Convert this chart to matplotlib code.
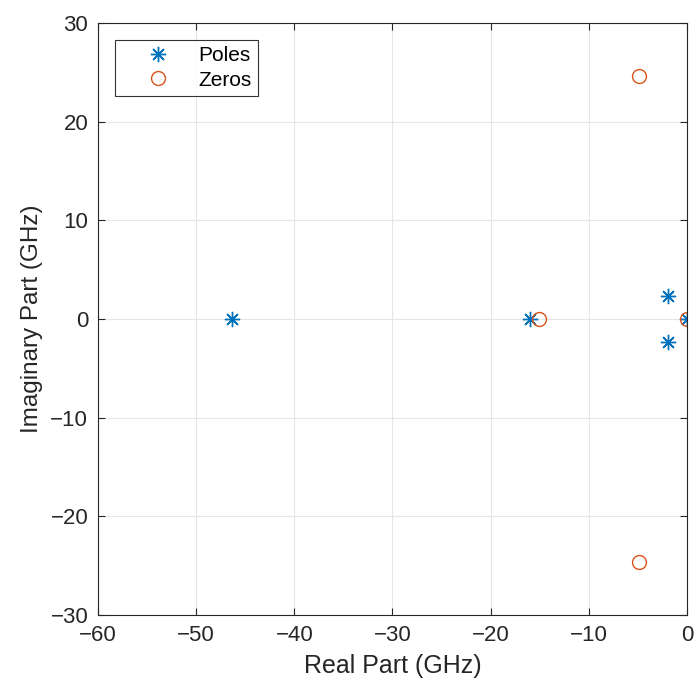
import matplotlib
matplotlib.use('Agg')
import matplotlib.pyplot as plt

# pole / zero locations (GHz)
pole_re = [-46.3, -16.0, -1.95, -1.95, 0.0]
pole_im = [0.0, 0.0, 2.3, -2.3, 0.0]
zero_re = [-15.1, -4.9, -4.9, 0.0]
zero_im = [0.0, 24.6, -24.6, 0.0]

plt.rcParams['font.family'] = ['Liberation Sans', 'DejaVu Sans']

fig = plt.figure(figsize=(6.94, 6.82), dpi=100)
ax = fig.add_axes([0.1412, 0.0982, 0.8487, 0.8681])

# MATLAB-style asterisk: 8 arms
ax.plot(pole_re, pole_im, linestyle='none', marker=(8, 2, 0), color='#0072BD',
        markersize=11, label='Poles', markeredgewidth=1.0)
ax.plot(zero_re, zero_im, linestyle='none', marker='o', color='#D95319',
        markerfacecolor='none', markersize=10, markeredgewidth=1.0, label='Zeros')

ax.set_xlim(-60, 0)
ax.set_ylim(-30, 30)
ax.set_xticks(range(-60, 1, 10))
ax.set_yticks(range(-30, 31, 10))
ax.set_xticklabels([str(v).replace('-', '\u2212') for v in range(-60, 1, 10)])
ax.set_yticklabels([str(v).replace('-', '\u2212') for v in range(-30, 31, 10)])
ax.grid(True, color='#e6e6e6', linewidth=0.8)
ax.set_axisbelow(True)
ax.tick_params(direction='in', length=5, labelsize=16, colors='#262626',
               top=True, right=True, width=0.8, pad=7)
for s in ax.spines.values():
    s.set_color('#262626')
    s.set_linewidth(0.8)

ax.set_xlabel('Real Part (GHz)', fontsize=18, color='#262626', labelpad=6)
ax.set_ylabel('Imaginary Part (GHz)', fontsize=17.5, color='#262626', labelpad=5)

leg = ax.legend(loc='upper left', fontsize=15, frameon=True, fancybox=False,
                edgecolor='black', borderpad=0.3, handletextpad=0.2,
                labelspacing=0.25, handlelength=3.5, borderaxespad=0,
                bbox_to_anchor=(0.029, 0.971))
leg.get_frame().set_linewidth(0.8)

fig.savefig('out.png', dpi=100)
